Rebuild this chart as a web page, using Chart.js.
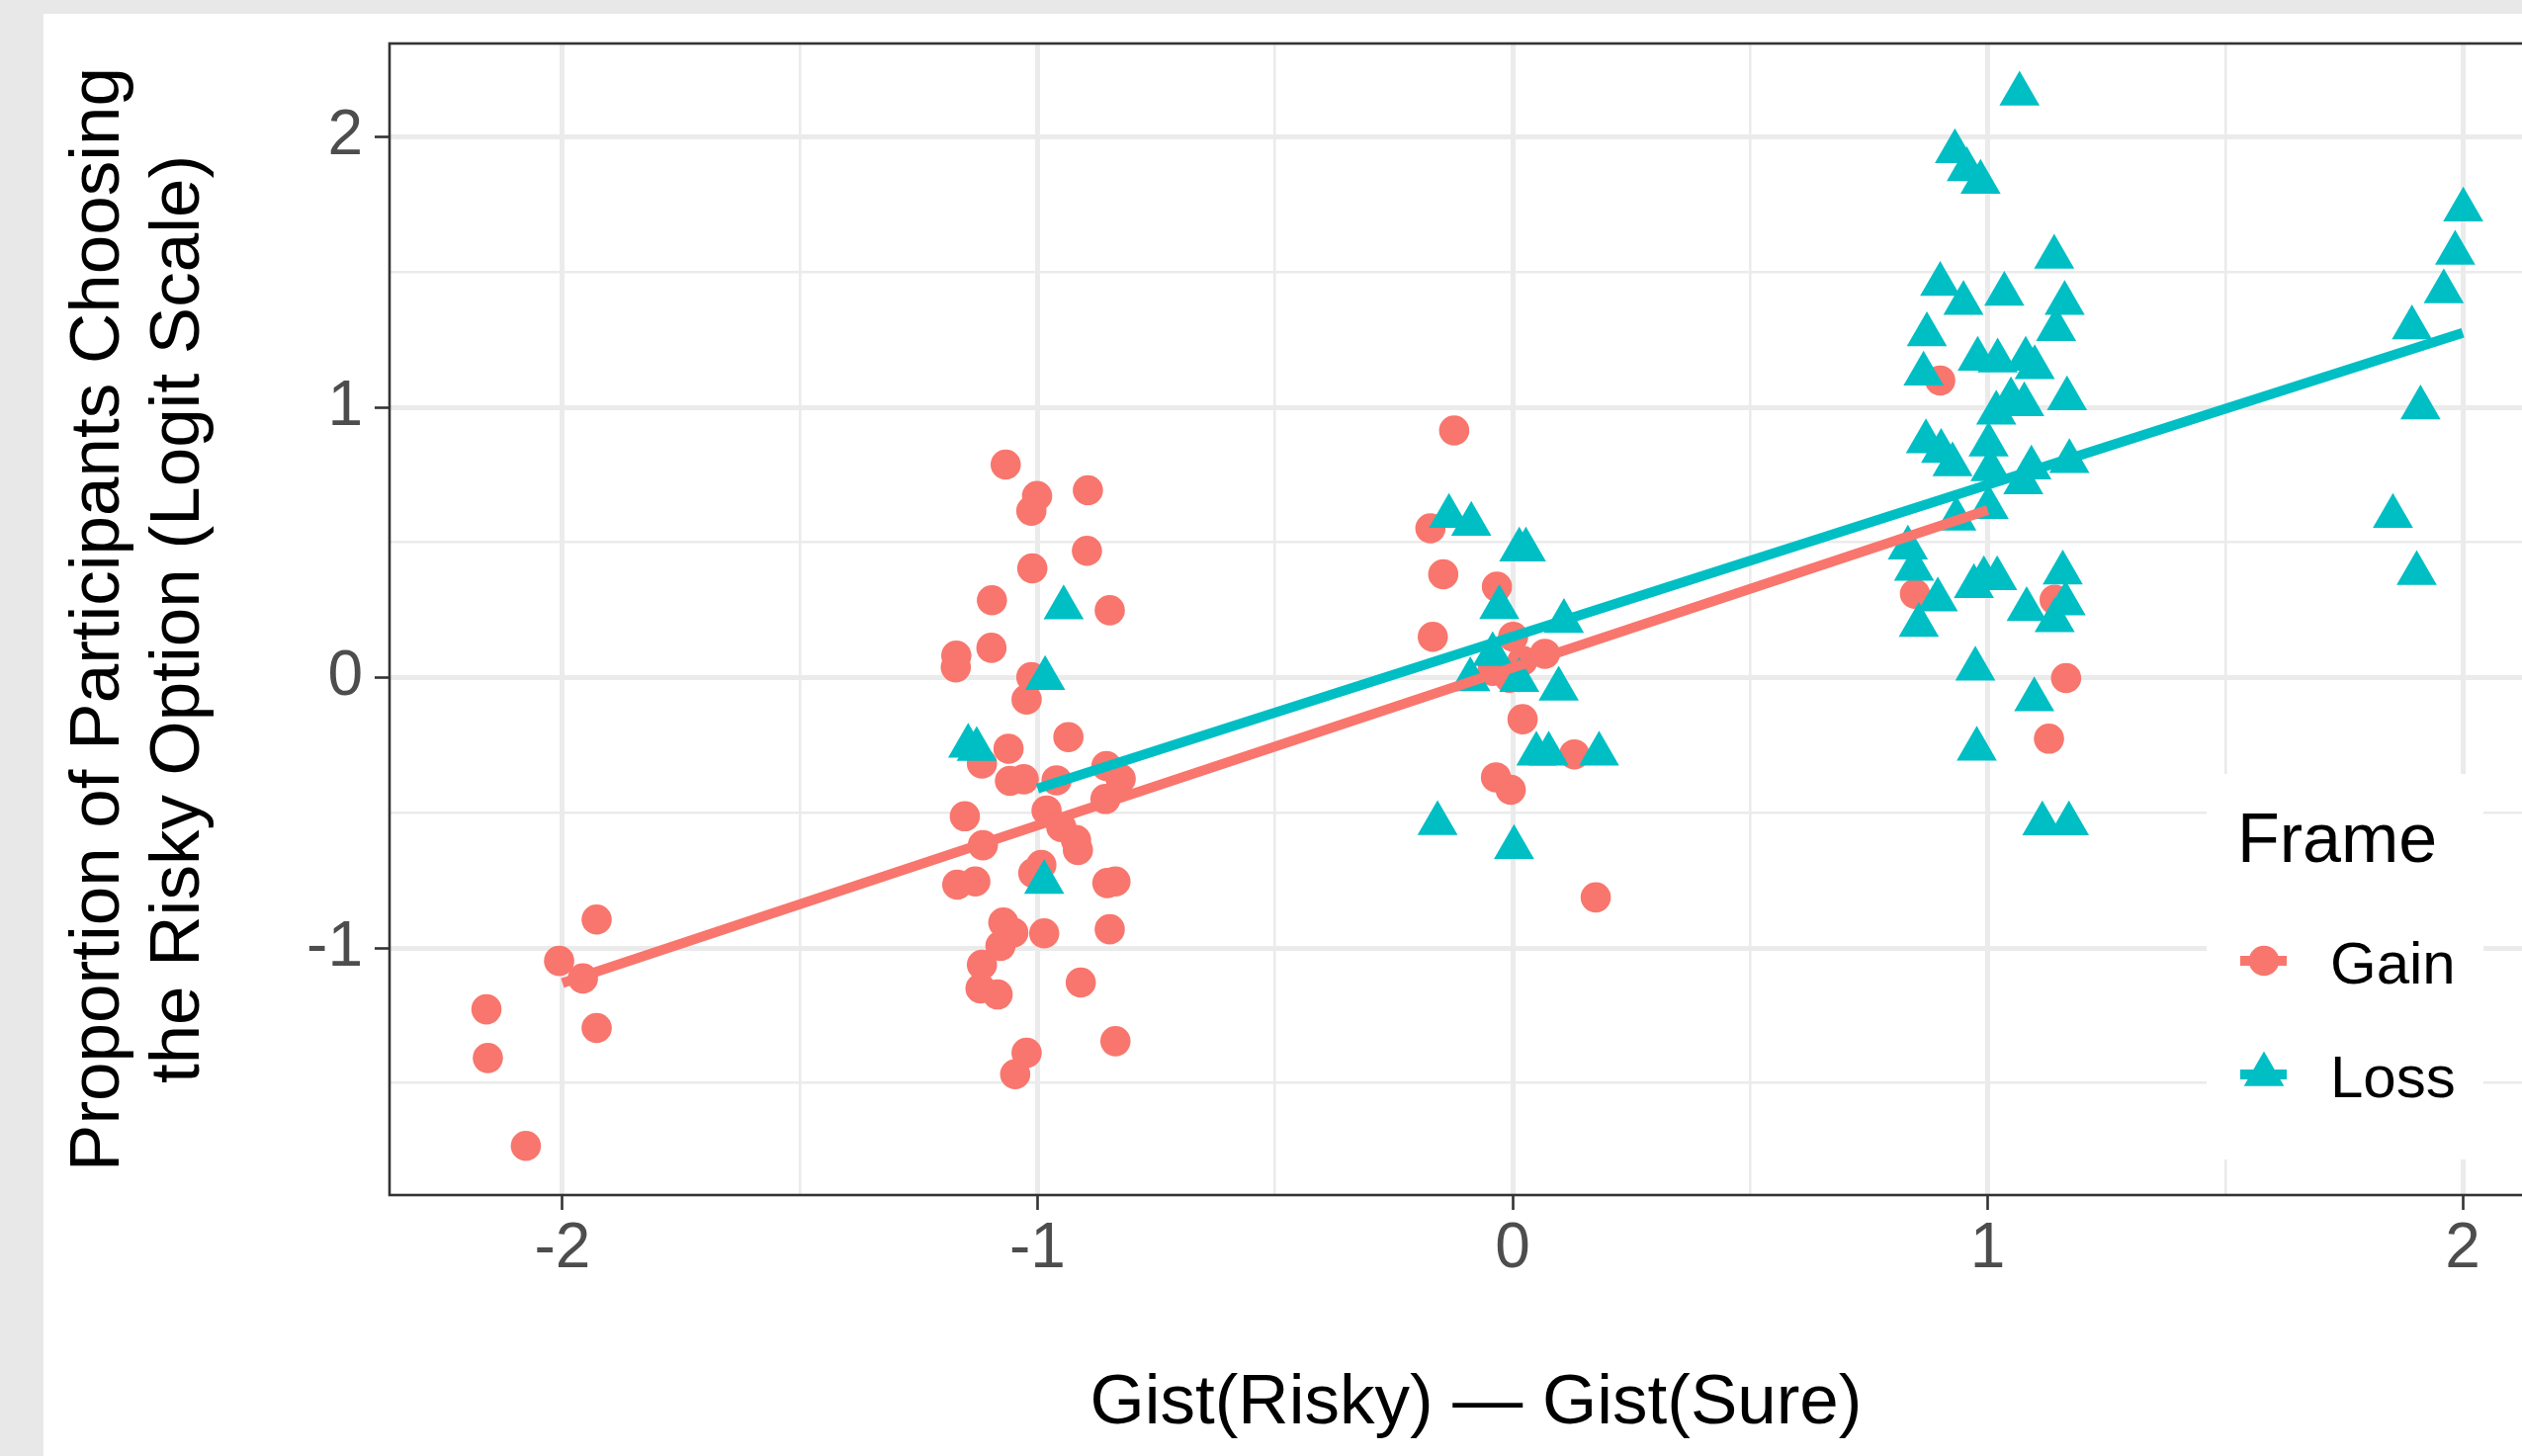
<!DOCTYPE html>
<html lang="en">
<head>
  <meta charset="UTF-8" />
  <title>Gist difference vs risky choice</title>
  <script src="https://cdn.jsdelivr.net/npm/chart.js"></script>
  <style>
    html, body {
      margin: 0;
      padding: 0;
      width: 2551px;
      height: 1473px;
      overflow: hidden;
      background: #e8e8e8;
    }
    .panel {
      position: absolute;
      left: 44px;
      top: 14px;
      width: 2600px;
      height: 1500px;
      background: #ffffff;
    }
    .chart-box {
      position: absolute;
      left: 0;
      top: 0;
      width: 2592px;
      height: 1473px;
    }
  </style>
</head>
<body>
  <div class="panel"></div>
  <div class="chart-box">
    <canvas id="gistChart"></canvas>
  </div>

  <script>
    // series names and colours (ggplot defaults)
    const seriesNames = ['Gain', 'Loss'];
    const seriesColors = ['#F8766D', '#00BFC4'];

    // jittered points
    const gainX = [
      -2.160, -2.157, -2.077, -2.007, -1.957, -1.928, -1.928,
      -1.067, -1.001, -1.013, -0.894, -0.896, -1.011, -1.096, -0.848, -1.097, -1.171,
      -1.172, -1.013, -1.023, -0.935, -1.061, -1.117, -1.058, -1.029, -0.960, -0.855,
      -0.825, -0.857, -1.153, -0.981, -0.950, -0.919, -0.915, -1.115, -0.992, -1.009,
      -1.169, -1.131, -0.853, -0.836, -1.072, -1.051, -1.078, -0.986, -0.848, -1.117,
      -1.120, -1.084, -0.909, -0.836, -1.023, -1.047,
      -0.123, -0.173, -0.146, -0.033, -0.168, 0.001, -0.042, -0.007, 0.021, 0.068,
      0.021, 0.130, -0.035, -0.004, 0.175,
      0.900, 0.847, 1.141, 1.165, 1.129
    ];
    const gainY = [
      -1.227, -1.407, -1.732, -1.048, -1.113, -0.895, -1.296,
      0.788, 0.672, 0.617, 0.693, 0.469, 0.404, 0.286, 0.249, 0.110, 0.081,
      0.038, 0.002, -0.081, -0.220, -0.263, -0.318, -0.382, -0.376, -0.380, -0.327,
      -0.375, -0.449, -0.513, -0.492, -0.553, -0.601, -0.638, -0.620, -0.693, -0.723,
      -0.766, -0.754, -0.760, -0.754, -0.906, -0.943, -0.992, -0.946, -0.931, -1.062,
      -1.150, -1.172, -1.128, -1.345, -1.388, -1.467,
      0.914, 0.552, 0.382, 0.336, 0.151, 0.151, 0.025, -0.001, 0.062, 0.088,
      -0.154, -0.284, -0.369, -0.415, -0.813,
      1.099, 0.310, 0.288, -0.002, -0.226
    ];
    const lossX = [
      -0.945, -0.984, -1.146, -1.128, -0.986,
      -0.134, -0.087, 0.014, 0.028, -0.028, 0.108, -0.042, -0.089, 0.014, 0.097,
      0.050, 0.076, 0.182, -0.158, 0.003,
      1.067, 0.931, 0.956, 0.985, 1.140, 0.900, 0.949, 1.035, 1.162, 1.144,
      0.872, 0.979, 1.021, 1.080, 1.099, 0.865, 1.167, 1.049, 1.077, 1.018,
      0.870, 0.902, 0.926, 1.002, 1.006, 1.092, 1.075, 1.172, 0.934, 1.002,
      0.832, 0.845, 0.895, 0.855, 0.971, 0.992, 1.020, 1.158, 1.082, 1.164,
      1.141, 0.974, 1.098, 0.977, 1.115, 1.171,
      2.001, 1.984, 1.960, 1.893, 1.911, 1.853, 1.903
    ];
    const lossY = [
      0.259, -0.003, -0.253, -0.265, -0.757,
      0.597, 0.568, 0.473, 0.473, 0.260, 0.208, 0.086, -0.007, -0.010, -0.042,
      -0.282, -0.282, -0.282, -0.539, -0.628,
      2.159, 1.946, 1.879, 1.833, 1.556, 1.455, 1.385, 1.419, 1.385, 1.288,
      1.269, 1.178, 1.172, 1.178, 1.147, 1.123, 1.032, 1.028, 1.010, 0.979,
      0.873, 0.837, 0.788, 0.861, 0.770, 0.776, 0.721, 0.800, 0.587, 0.630,
      0.480, 0.401, 0.288, 0.194, 0.337, 0.367, 0.367, 0.388, 0.252, 0.273,
      0.211, 0.032, -0.081, -0.264, -0.540, -0.540,
      1.730, 1.570, 1.428, 1.294, 0.998, 0.597, 0.386
    ];

    // linear fits (ends of each smooth line)
    const gainFitX = [-2, 1];
    const gainFitY = [-1.13, 0.62];
    const lossFitX = [-1, 2];
    const lossFitY = [-0.41, 1.275];

    // axis breaks
    const xTicks = [-2, -1, 0, 1, 2];
    const yTicks = [-1, 0, 1, 2];

    const X_MIN = -2.364, X_MAX = 2.21;
    const Y_MIN = -1.914, Y_MAX = 2.3455;

    const FONT = '"Liberation Sans", Arial, Helvetica, sans-serif';
    Chart.defaults.font.family = FONT;

    const toPoints = (xs, ys) => xs.map((x, i) => ({ x: x, y: ys[i] }));

    // majors plus the half-way minors that fall inside the range
    function withMinors(majors, lo, hi) {
      const vals = [];
      for (let i = 0; i < majors.length; i++) {
        vals.push(majors[i]);
        if (i < majors.length - 1) vals.push((majors[i] + majors[i + 1]) / 2);
      }
      vals.push(majors[0] - 0.5, majors[majors.length - 1] + 0.5);
      return vals.filter(v => v >= lo && v <= hi).sort((a, b) => a - b);
    }

    const isMajor = v => Math.abs(v - Math.round(v)) < 1e-9;

    function axisGrid() {
      return {
        color: '#ebebeb',
        lineWidth: ctx => (ctx.tick && isMajor(ctx.tick.value)) ? 5 : 2.6,
        drawTicks: true,
        tickLength: 15,
        tickWidth: 2.6,
        tickColor: ctx => (ctx.tick && isMajor(ctx.tick.value)) ? '#333333' : 'rgba(0,0,0,0)'
      };
    }

    // keep the plot panel exactly where the layout puts it
    function noLabelPadding(s) {
      s.paddingTop = 0;
      s.paddingBottom = 0;
      s.paddingLeft = 0;
      s.paddingRight = 0;
    }

    // panel border drawn over the points, like ggplot
    const panelBorder = {
      id: 'panelBorder',
      afterDatasetsDraw(chart) {
        const a = chart.chartArea;
        const c = chart.ctx;
        c.save();
        c.strokeStyle = '#333333';
        c.lineWidth = 2.6;
        c.strokeRect(a.left, a.top, a.right - a.left, a.bottom - a.top);
        c.restore();
      }
    };

    // "Frame" legend sitting on the panel
    const frameLegend = {
      id: 'frameLegend',
      afterDraw(chart) {
        const c = chart.ctx;
        c.save();
        c.fillStyle = '#ffffff';
        c.fillRect(2232, 783, 280, 390);

        c.fillStyle = '#000000';
        c.textBaseline = 'alphabetic';
        c.textAlign = 'left';
        c.font = '70px ' + FONT;
        c.fillText('Frame', 2263, 872);

        chart.data.datasets.filter(d => d.isPoints).forEach((d, i) => {
          const cy = 972 + i * 115;
          c.strokeStyle = d.backgroundColor;
          c.lineWidth = 10;
          c.beginPath();
          c.moveTo(2266, cy);
          c.lineTo(2313, cy);
          c.stroke();
          c.fillStyle = d.backgroundColor;
          Chart.helpers.drawPoint(c, { pointStyle: d.pointStyle, radius: d.pointRadius, rotation: 0, borderWidth: 0 }, 2290, cy);
          c.fillStyle = '#000000';
          c.font = '60px ' + FONT;
          c.fillText(d.label, 2357, cy + 23);
        });
        c.restore();
      }
    };

    const ctx = document.getElementById('gistChart').getContext('2d');

    new Chart(ctx, {
      type: 'scatter',
      data: {
        datasets: [
          {
            label: seriesNames[0] + ' fit',
            data: toPoints(gainFitX, gainFitY),
            showLine: true,
            borderColor: seriesColors[0],
            borderWidth: 10,
            pointRadius: 0,
            order: 2
          },
          {
            label: seriesNames[1] + ' fit',
            data: toPoints(lossFitX, lossFitY),
            showLine: true,
            borderColor: seriesColors[1],
            borderWidth: 10,
            pointRadius: 0,
            order: 1
          },
          {
            label: seriesNames[0],
            isPoints: true,
            data: toPoints(gainX, gainY),
            pointStyle: 'circle',
            pointRadius: 15.3,
            backgroundColor: seriesColors[0],
            borderWidth: 0,
            order: 4
          },
          {
            label: seriesNames[1],
            isPoints: true,
            data: toPoints(lossX, lossY),
            pointStyle: 'triangle',
            pointRadius: 23.5,
            backgroundColor: seriesColors[1],
            borderWidth: 0,
            order: 3
          }
        ]
      },
      options: {
        responsive: true,
        maintainAspectRatio: false,
        devicePixelRatio: 1,
        animation: false,
        events: [],
        layout: { autoPadding: false, padding: { top: 44, left: 0, right: 0, bottom: 0 } },
        plugins: {
          legend: { display: false },
          tooltip: { enabled: false }
        },
        scales: {
          x: {
            type: 'linear',
            min: X_MIN,
            max: X_MAX,
            afterBuildTicks: s => { s.ticks = withMinors(xTicks, X_MIN, X_MAX).map(v => ({ value: v })); },
            afterFit: s => { s.height = 264; noLabelPadding(s); },
            border: { display: false },
            grid: axisGrid(),
            ticks: {
              autoSkip: false,
              maxRotation: 0,
              padding: 2,
              color: '#4d4d4d',
              font: { size: 64 },
              callback: v => isMajor(v) ? String(v) : ''
            },
            title: {
              display: true,
              text: 'Gist(Risky) \u2014 Gist(Sure)',
              color: '#000000',
              font: { size: 71, lineHeight: 1.14 },
              padding: { top: 0, bottom: 12 }
            }
          },
          y: {
            type: 'linear',
            min: Y_MIN,
            max: Y_MAX,
            afterBuildTicks: s => { s.ticks = withMinors(yTicks, Y_MIN, Y_MAX).map(v => ({ value: v })); },
            afterFit: s => { s.width = 394; noLabelPadding(s); },
            border: { display: false },
            grid: axisGrid(),
            ticks: {
              autoSkip: false,
              padding: 12,
              color: '#4d4d4d',
              font: { size: 64 },
              callback: v => isMajor(v) ? String(v) : ''
            },
            title: {
              display: true,
              text: ['Proportion of Participants Choosing', 'the Risky Option (Logit Scale)'],
              color: '#000000',
              font: { size: 71, lineHeight: 1.14 },
              padding: { top: 60, bottom: 0 }
            }
          }
        }
      },
      plugins: [panelBorder, frameLegend]
    });
  </script>
</body>
</html>
